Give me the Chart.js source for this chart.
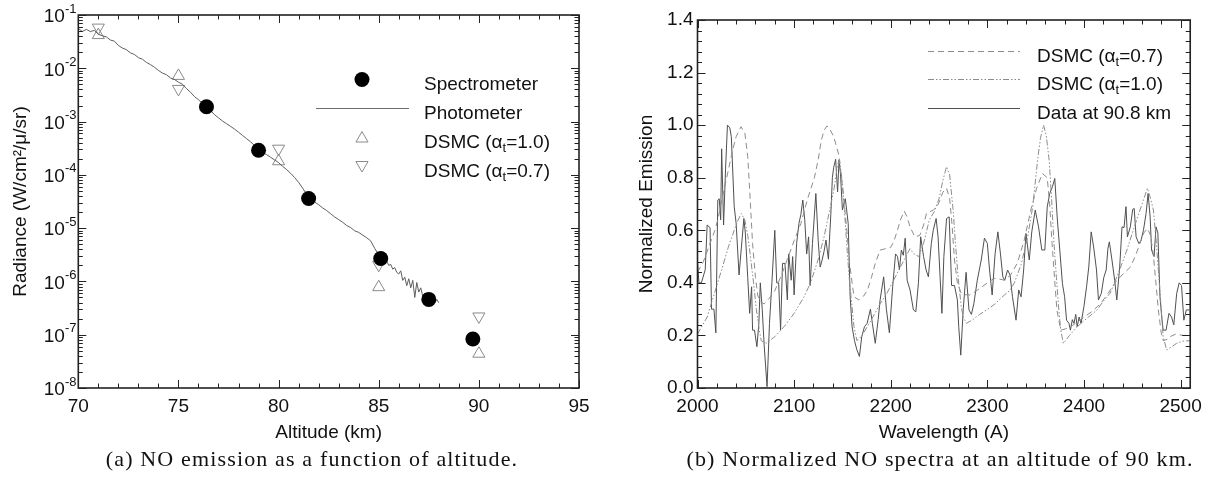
<!DOCTYPE html>
<html>
<head>
<meta charset="utf-8">
<script src="https://cdn.jsdelivr.net/npm/chart.js@4.4.1/dist/chart.umd.min.js"></script>
<style>
  body { margin: 0; background: #fff; width: 1209px; height: 478px; overflow: hidden; position: relative; }
  canvas { position: absolute; top: 0; }
  #alt-chart { left: 0; }
  #spec-chart { left: 600px; }
  .caption { position: absolute; top: 446px; transform: translateX(-50%); font-family: "Liberation Serif", "Times New Roman", serif;
             font-size: 22px; line-height: 26px; letter-spacing: 1.15px; white-space: nowrap; color: #111; }
</style>
</head>
<body>
<canvas id="alt-chart" width="600" height="450"></canvas>
<canvas id="spec-chart" width="609" height="450"></canvas>
<div class="caption" style="left:312px">(a) NO emission as a function of altitude.</div>
<div class="caption" style="left:940px">(b) Normalized NO spectra at an altitude of 90 km.</div>

<script>
// ---- (a) radiance vs altitude ----
const altTicks = [70, 75, 80, 85, 90, 95];
const radDecades = [1e-8, 1e-7, 1e-6, 1e-5, 1e-4, 1e-3, 1e-2, 1e-1];

const specAlt = [76.4, 79.0, 81.5, 85.1, 87.5, 89.7];
const specRad = [1.9e-3, 2.9e-4, 3.6e-5, 2.7e-6, 4.6e-7, 8.3e-8];

const dsmc10Alt = [71, 75, 80, 85, 90];
const dsmc10Rad = [4.2e-2, 7.2e-3, 1.8e-4, 7.8e-7, 4.4e-8];
const dsmc07Alt = [71, 75, 80, 85, 90];
const dsmc07Rad = [5.8e-2, 4.1e-3, 3.1e-4, 2.05e-6, 2.2e-7];

// photometer trace, altitude (km) and log10 of radiance
const photoAlt = [
  70.0, 70.2, 70.4, 70.6, 70.8, 71.0, 71.2, 71.4, 71.6, 71.8,
  72.0, 72.2, 72.4, 72.6, 72.8, 73.0, 73.2, 73.4, 73.6, 73.8,
  74.0, 74.2, 74.4, 74.6, 74.8, 75.0, 75.2, 75.4, 75.6, 75.8,
  76.0, 76.2, 76.4, 76.6, 76.8, 77.0, 77.2, 77.4, 77.6, 77.8,
  78.0, 78.2, 78.4, 78.6, 78.8, 79.0, 79.2, 79.4, 79.6, 79.8,
  80.0, 80.2, 80.4, 80.6, 80.8, 81.0, 81.2, 81.4, 81.6, 81.8,
  82.0, 82.2, 82.4, 82.6, 82.8, 83.0, 83.2, 83.4, 83.6, 83.8,
  84.0, 84.2, 84.4, 84.6, 84.8, 85.0, 85.1, 85.2, 85.3, 85.4,
  85.5, 85.6, 85.7, 85.8, 85.9, 86.0, 86.1, 86.2, 86.3, 86.4,
  86.5, 86.6, 86.7, 86.8, 86.9, 87.0, 87.1, 87.2, 87.3, 87.4,
  87.5, 87.6, 87.7, 87.8, 87.9, 88.0
];
const photoLogRad = [
  -1.25, -1.31, -1.27, -1.31, -1.29, -1.36, -1.39, -1.41, -1.47, -1.49,
  -1.57, -1.62, -1.65, -1.71, -1.74, -1.80, -1.83, -1.89, -1.93, -1.98,
  -2.04, -2.09, -2.12, -2.18, -2.21, -2.26, -2.30, -2.38, -2.45, -2.53,
  -2.59, -2.66, -2.72, -2.79, -2.87, -2.93, -2.99, -3.04, -3.09, -3.14,
  -3.20, -3.26, -3.32, -3.38, -3.45, -3.52, -3.58, -3.62, -3.67, -3.72,
  -3.77, -3.84, -3.90, -3.97, -4.05, -4.14, -4.25, -4.36, -4.45, -4.51,
  -4.56, -4.62, -4.67, -4.73, -4.79, -4.84, -4.89, -4.95, -4.99, -5.05,
  -5.08, -5.13, -5.18, -5.24, -5.38, -5.50, -5.57, -5.58, -5.64, -5.62,
  -5.70, -5.68, -5.77, -5.74, -5.83, -5.86, -5.80, -5.98, -5.92, -6.08,
  -5.95, -6.12, -5.98, -6.30, -6.02, -6.20, -6.12, -6.28, -6.22, -6.34,
  -6.30, -6.38, -6.31, -6.40, -6.34, -6.40
];

// ---- (b) normalized spectra ----
const waveTicks = [2000, 2100, 2200, 2300, 2400, 2500];
const emisTicks = [0, 0.2, 0.4, 0.6, 0.8, 1.0, 1.2, 1.4];

const dsmc07Wave = [
  2000, 2006, 2012, 2018, 2021, 2026, 2032, 2036, 2040, 2045, 2049, 2052, 2054.5, 2057, 2060,
  2062.5, 2066, 2069, 2074, 2080, 2087, 2093, 2100, 2107, 2114, 2121, 2125, 2128, 2131, 2134,
  2137, 2141, 2146, 2149, 2152, 2155, 2157, 2160, 2162, 2167, 2172, 2176, 2180, 2184, 2189,
  2196, 2200, 2203, 2207, 2210, 2214, 2217, 2220, 2225, 2230, 2234, 2237, 2244, 2248, 2251,
  2254, 2257.8, 2261, 2263.5, 2266, 2269, 2273, 2277, 2281.7, 2290, 2300, 2307, 2312, 2317.7, 2324,
  2331, 2338, 2345, 2351, 2357, 2362, 2364.5, 2367, 2369.5, 2372, 2376, 2381, 2386, 2393, 2400,
  2408, 2417, 2425, 2434, 2441, 2448, 2453, 2458, 2462, 2465.7, 2469, 2472, 2475, 2477, 2480,
  2482, 2486, 2489, 2495, 2502.7, 2510
];
const dsmc07Emis = [
  0.44, 0.48, 0.54, 0.60, 0.64, 0.73, 0.83, 0.90, 0.956, 0.994, 0.97, 0.88, 0.72, 0.55, 0.42,
  0.35, 0.325, 0.32, 0.34, 0.37, 0.43, 0.49, 0.56, 0.626, 0.72, 0.80, 0.87, 0.94, 0.98, 0.997,
  0.985, 0.956, 0.89, 0.80, 0.70, 0.58, 0.487, 0.40, 0.347, 0.335, 0.35, 0.373, 0.42, 0.474, 0.525,
  0.531, 0.535, 0.556, 0.60, 0.639, 0.673, 0.65, 0.613, 0.575, 0.58, 0.62, 0.664, 0.677, 0.69, 0.715,
  0.745, 0.76, 0.72, 0.62, 0.487, 0.40, 0.36, 0.355, 0.354, 0.373, 0.40, 0.417, 0.415, 0.41, 0.43,
  0.474, 0.56, 0.677, 0.76, 0.816, 0.80, 0.70, 0.55, 0.42, 0.297, 0.22, 0.225, 0.233, 0.25, 0.27,
  0.29, 0.32, 0.36, 0.41, 0.435, 0.46, 0.50, 0.55, 0.59, 0.607, 0.58, 0.50, 0.38, 0.297, 0.21,
  0.18, 0.185, 0.195, 0.205, 0.20, 0.20
];

const dsmc10Wave = [
  2000, 2010, 2018, 2025, 2032, 2038, 2042, 2045.4, 2049, 2052, 2054, 2058, 2061, 2064, 2066,
  2071, 2080, 2090, 2100, 2110, 2117, 2125, 2131, 2137, 2141, 2145, 2147, 2150, 2152, 2155,
  2157, 2162, 2165, 2168, 2172, 2180, 2189, 2196, 2203, 2210, 2217, 2220, 2224, 2229, 2234,
  2240, 2245, 2250, 2254, 2257.8, 2261, 2264.6, 2267, 2269.8, 2273, 2275, 2278.3, 2285, 2292, 2300.6,
  2308, 2317.7, 2323, 2328, 2335, 2341.7, 2347, 2352, 2355, 2358.2, 2361, 2364, 2366.5, 2369, 2371.5,
  2374, 2376, 2378.7, 2385, 2393, 2403, 2413.6, 2420, 2427, 2436, 2444.5, 2451, 2458, 2462, 2465.7,
  2469, 2471.9, 2474.5, 2477, 2480, 2482, 2485.6, 2490, 2495.9, 2502, 2510
];
const dsmc10Emis = [
  0.205, 0.27, 0.366, 0.45, 0.537, 0.60, 0.639, 0.664, 0.639, 0.58, 0.525, 0.40, 0.297, 0.22, 0.18,
  0.17, 0.195, 0.235, 0.284, 0.345, 0.40, 0.49, 0.575, 0.68, 0.75, 0.85, 0.87, 0.78, 0.68, 0.52,
  0.42, 0.233, 0.18, 0.19, 0.21, 0.26, 0.32, 0.36, 0.41, 0.46, 0.51, 0.53, 0.51, 0.50, 0.55,
  0.64, 0.67, 0.72, 0.79, 0.842, 0.81, 0.677, 0.55, 0.42, 0.31, 0.27, 0.246, 0.26, 0.28, 0.30,
  0.32, 0.354, 0.37, 0.40, 0.47, 0.575, 0.69, 0.867, 0.95, 1.0, 0.96, 0.867, 0.72, 0.55, 0.42,
  0.297, 0.22, 0.17, 0.20, 0.233, 0.265, 0.297, 0.33, 0.36, 0.44, 0.525, 0.60, 0.677, 0.72, 0.76,
  0.72, 0.677, 0.57, 0.449, 0.30, 0.195, 0.145, 0.155, 0.17, 0.178, 0.18
];

const obsWave = [
  2000, 2001.5, 2004, 2008, 2010, 2013, 2014.5, 2017, 2019, 2021, 2022.5, 2024, 2025, 2027, 2029,
  2031, 2033.4, 2035, 2038, 2040, 2043, 2048, 2049.5, 2052, 2054, 2056, 2057, 2059, 2061.5, 2063.5,
  2065, 2067, 2069, 2072, 2074.5, 2077, 2080, 2082, 2084, 2086, 2088, 2090.5, 2093, 2094.4, 2097,
  2098.5, 2100, 2102.6, 2105, 2107, 2109, 2111, 2113, 2115, 2116.6, 2119, 2122.5, 2125, 2127, 2129,
  2131, 2133, 2135.5, 2138, 2139.6, 2141, 2143, 2145, 2146.5, 2148, 2150, 2151.5, 2153, 2156, 2158,
  2160, 2162.5, 2165, 2167.6, 2170, 2172.8, 2175.6, 2179, 2181, 2184, 2187, 2189, 2192.7, 2195.5, 2198.6,
  2202, 2205, 2207, 2209, 2211, 2213, 2215, 2217, 2220, 2223.5, 2226, 2228.7, 2231, 2234, 2236.6,
  2239, 2242, 2244, 2247, 2249, 2253, 2255, 2257.8, 2260.5, 2263, 2266, 2269, 2270.4, 2272.5, 2275,
  2278, 2281, 2283.5, 2286, 2289.6, 2293.7, 2297, 2300, 2302.3, 2305, 2308, 2310.9, 2313.6, 2316, 2318,
  2321, 2323.5, 2326, 2329.7, 2332.5, 2334.9, 2337.6, 2340, 2343.4, 2346, 2349.6, 2353, 2356.4, 2359.5, 2362,
  2364.6, 2367.4, 2369.8, 2372.5, 2375, 2377.7, 2380, 2382, 2384.5, 2386, 2388, 2389.7, 2391.5, 2393, 2395,
  2397, 2400, 2402.7, 2405, 2407.5, 2410, 2413, 2415, 2418, 2420.5, 2423, 2424.8, 2426.3, 2429, 2431.8,
  2434, 2437, 2439.4, 2441.5, 2443.5, 2445, 2448, 2450.5, 2452, 2454, 2456.8, 2459, 2461.6, 2464.3, 2466.4,
  2468.5, 2470, 2472.6, 2474.6, 2476.5, 2478.7, 2480.5, 2482, 2485, 2488, 2490.7, 2493, 2496, 2498.6, 2501,
  2503.4, 2506, 2509
];
const obsEmis = [
  0.48, 0.40, 0.40, 0.45, 0.62, 0.61, 0.30, 0.30, 0.21, 0.715, 0.72, 0.64, 0.91, 0.62, 0.83,
  1.00, 0.99, 0.956, 0.69, 0.626, 0.43, 0.645, 0.59, 0.42, 0.284, 0.385, 0.22, 0.22, 0.157, 0.246,
  0.40, 0.30, 0.163, 0.005, 0.246, 0.40, 0.60, 0.40, 0.40, 0.22, 0.474, 0.474, 0.335, 0.51, 0.41,
  0.50, 0.354, 0.55, 0.626, 0.66, 0.715, 0.64, 0.51, 0.575, 0.39, 0.55, 0.74, 0.556, 0.46, 0.487,
  0.52, 0.563, 0.49, 0.66, 0.80, 0.84, 0.87, 0.746, 0.867, 0.815, 0.677, 0.70, 0.72, 0.626, 0.347,
  0.233, 0.18, 0.145, 0.12, 0.195, 0.233, 0.246, 0.30, 0.246, 0.17, 0.26, 0.335, 0.423, 0.30, 0.21,
  0.385, 0.51, 0.50, 0.45, 0.525, 0.505, 0.57, 0.41, 0.373, 0.297, 0.29, 0.40, 0.575, 0.50, 0.449,
  0.423, 0.55, 0.60, 0.645, 0.575, 0.284, 0.50, 0.645, 0.651, 0.39, 0.39, 0.335, 0.233, 0.125, 0.297,
  0.44, 0.297, 0.28, 0.32, 0.41, 0.487, 0.57, 0.55, 0.449, 0.354, 0.51, 0.594, 0.51, 0.423, 0.41,
  0.449, 0.43, 0.347, 0.258, 0.373, 0.347, 0.449, 0.588, 0.487, 0.594, 0.677, 0.613, 0.525, 0.525, 0.689,
  0.74, 0.766, 0.797, 0.639, 0.525, 0.398, 0.347, 0.258, 0.246, 0.22, 0.26, 0.246, 0.28, 0.233, 0.27,
  0.246, 0.31, 0.385, 0.46, 0.594, 0.537, 0.449, 0.335, 0.36, 0.42, 0.449, 0.53, 0.556, 0.487, 0.41,
  0.335, 0.46, 0.613, 0.61, 0.69, 0.575, 0.613, 0.68, 0.683, 0.575, 0.55, 0.56, 0.60, 0.664, 0.74,
  0.651, 0.525, 0.50, 0.613, 0.59, 0.347, 0.27, 0.22, 0.22, 0.284, 0.27, 0.24, 0.36, 0.40, 0.39,
  0.258, 0.297, 0.297
];

const FONT = '"Liberation Sans", Arial, Helvetica, sans-serif';
const INK = '#111';
Chart.defaults.font.family = FONT;
Chart.defaults.font.size = 19;
Chart.defaults.color = INK;
Chart.defaults.animation = false;

const pairs = (xs, ys) => xs.map((x, i) => ({ x, y: ys[i] }));
const steps = (from, to, step) => {
  const out = [];
  for (let v = from; v <= to + 1e-9; v += step) out.push(+v.toFixed(6));
  return out;
};

// frame with inward ticks on all four sides
const boxTicks = {
  id: 'boxTicks',
  afterDatasetsDraw(chart, args, opts) {
    const { ctx, chartArea: a, scales: { x, y } } = chart;
    ctx.save();
    ctx.strokeStyle = '#222';
    ctx.lineWidth = 1;
    ctx.beginPath();
    const xt = (vals, len) => vals.forEach(v => {
      const p = Math.round(x.getPixelForValue(v)) + 0.5;
      ctx.moveTo(p, a.bottom); ctx.lineTo(p, a.bottom - len);
      ctx.moveTo(p, a.top); ctx.lineTo(p, a.top + len);
    });
    const yt = (vals, len) => vals.forEach(v => {
      const p = Math.round(y.getPixelForValue(v)) + 0.5;
      ctx.moveTo(a.left, p); ctx.lineTo(a.left + len, p);
      ctx.moveTo(a.right, p); ctx.lineTo(a.right - len, p);
    });
    xt(opts.xMajor, 8); xt(opts.xMinor, 4.5);
    yt(opts.yMajor, 8); yt(opts.yMinor, 4.5);
    ctx.stroke();
    ctx.lineWidth = 1.6;
    ctx.strokeRect(a.left, a.top, a.right - a.left, a.bottom - a.top);
    ctx.restore();
  }
};

function alphaLabel(ctx, x, y, val) {
  ctx.font = '19px ' + FONT;
  const head = 'DSMC (\u03b1';
  ctx.fillText(head, x, y);
  x += ctx.measureText(head).width;
  ctx.font = '13px ' + FONT;
  ctx.fillText('t', x, y + 4);
  x += ctx.measureText('t').width;
  ctx.font = '19px ' + FONT;
  ctx.fillText('=' + val + ')', x, y);
}

// log labels 10^n and the legend of chart (a)
const altDecor = {
  id: 'altDecor',
  afterDraw(chart) {
    const { ctx, scales: { y } } = chart;
    ctx.save();
    ctx.fillStyle = INK;
    ctx.textBaseline = 'middle';
    radDecades.forEach(v => {
      const p = y.getPixelForValue(v);
      const sup = String(Math.round(Math.log10(v)));
      ctx.font = '13px ' + FONT;
      const ws = ctx.measureText(sup).width;
      ctx.font = '19px ' + FONT;
      const wb = ctx.measureText('10').width;
      const x0 = 76.5 - ws - wb;
      ctx.fillText('10', x0, p + 2);
      ctx.font = '13px ' + FONT;
      ctx.fillText(sup, x0 + wb, p - 6);
    });

    const H = Chart.helpers;
    ctx.textBaseline = 'alphabetic';
    ctx.fillStyle = '#000';
    H.drawPoint(ctx, { pointStyle: 'circle', radius: 7.5, borderWidth: 0 }, 362, 79.5);
    ctx.strokeStyle = '#6e6e6e';
    ctx.lineWidth = 1;
    ctx.beginPath(); ctx.moveTo(316, 108.5); ctx.lineTo(409, 108.5); ctx.stroke();
    ctx.fillStyle = 'rgba(0,0,0,0)';
    ctx.strokeStyle = '#8a8a8a';
    H.drawPoint(ctx, { pointStyle: 'triangle', radius: 7, borderWidth: 1, rotation: 0 }, 362, 138.5);
    H.drawPoint(ctx, { pointStyle: 'triangle', radius: 7, borderWidth: 1, rotation: 180 }, 362, 165);
    ctx.fillStyle = INK;
    ctx.font = '19px ' + FONT;
    ctx.fillText('Spectrometer', 424, 89.5);
    ctx.fillText('Photometer', 424, 118.5);
    alphaLabel(ctx, 424, 147.5, '1.0');
    alphaLabel(ctx, 424, 176.5, '0.7');
    ctx.restore();
  }
};

new Chart(document.getElementById('alt-chart'), {
  type: 'scatter',
  data: {
    datasets: [
      { label: 'Spectrometer', data: pairs(specAlt, specRad), pointStyle: 'circle', pointRadius: 7.5,
        backgroundColor: '#000', borderColor: '#000', borderWidth: 0 },
      { label: 'Photometer', data: pairs(photoAlt, photoLogRad.map(e => Math.pow(10, e))), showLine: true,
        pointRadius: 0, borderColor: '#5e5e5e', borderWidth: 1, tension: 0 },
      { label: 'DSMC (\u03b1t=1.0)', data: pairs(dsmc10Alt, dsmc10Rad), pointStyle: 'triangle', pointRadius: 7,
        backgroundColor: 'rgba(0,0,0,0)', borderColor: '#8a8a8a', borderWidth: 1 },
      { label: 'DSMC (\u03b1t=0.7)', data: pairs(dsmc07Alt, dsmc07Rad), pointStyle: 'triangle', rotation: 180,
        pointRadius: 7, backgroundColor: 'rgba(0,0,0,0)', borderColor: '#8a8a8a', borderWidth: 1 }
    ]
  },
  options: {
    responsive: false,
    layout: { padding: { top: 15, right: 21, left: 0, bottom: 0 } },
    plugins: {
      legend: { display: false },
      tooltip: { enabled: false },
      boxTicks: {
        xMajor: altTicks, xMinor: steps(70, 95, 1),
        yMajor: radDecades,
        yMinor: radDecades.slice(0, -1).flatMap(d => [2, 3, 4, 5, 6, 7, 8, 9].map(k => k * d))
      }
    },
    scales: {
      x: {
        type: 'linear', min: 70, max: 95,
        afterBuildTicks: s => { s.ticks = altTicks.map(v => ({ value: v })); },
        afterFit: s => { s.height = 62; },
        grid: { display: false, drawTicks: false }, border: { display: false },
        ticks: { autoSkip: false, maxRotation: 0, padding: 7, callback: v => String(v) },
        title: { display: true, text: 'Altitude (km)', padding: { top: 0, bottom: 6 } }
      },
      y: {
        type: 'logarithmic', min: 1e-8, max: 1e-1,
        afterBuildTicks: s => { s.ticks = radDecades.map(v => ({ value: v })); },
        afterFit: s => { s.width = 78.3; },
        grid: { display: false, drawTicks: false }, border: { display: false },
        ticks: { callback: () => '' },
        title: { display: true, text: 'Radiance (W/cm\u00b2/\u03bc/sr)', padding: { top: 9, bottom: 0 } }
      }
    }
  },
  plugins: [boxTicks, altDecor]
});

// legend of chart (b)
const specLegend = {
  id: 'specLegend',
  afterDraw(chart) {
    const { ctx } = chart;
    const rows = chart.data.datasets;
    const ys = [51.5, 79.5, 108.5];
    const base = [61.5, 90, 119];
    ctx.save();
    rows.forEach((ds, i) => {
      ctx.strokeStyle = ds.borderColor;
      ctx.lineWidth = 1;
      ctx.setLineDash(ds.borderDash || []);
      ctx.beginPath(); ctx.moveTo(328, ys[i]); ctx.lineTo(420, ys[i]); ctx.stroke();
    });
    ctx.setLineDash([]);
    ctx.fillStyle = INK;
    alphaLabel(ctx, 437, base[0], '0.7');
    alphaLabel(ctx, 437, base[1], '1.0');
    ctx.font = '19px ' + FONT;
    ctx.fillText('Data at 90.8 km', 437, base[2]);
    ctx.restore();
  }
};

new Chart(document.getElementById('spec-chart'), {
  type: 'scatter',
  data: {
    datasets: [
      { label: 'DSMC (\u03b1t=0.7)', data: pairs(dsmc07Wave, dsmc07Emis), showLine: true, pointRadius: 0,
        borderColor: '#8c8c8c', borderWidth: 1, borderDash: [6, 4], tension: 0 },
      { label: 'DSMC (\u03b1t=1.0)', data: pairs(dsmc10Wave, dsmc10Emis), showLine: true, pointRadius: 0,
        borderColor: '#8c8c8c', borderWidth: 1, borderDash: [6, 2, 1.5, 2, 1.5, 2], tension: 0 },
      { label: 'Data at 90.8 km', data: pairs(obsWave, obsEmis), showLine: true, pointRadius: 0,
        borderColor: '#505050', borderWidth: 1, tension: 0 }
    ]
  },
  options: {
    responsive: false,
    layout: { padding: { top: 20, right: 15.7, left: 0, bottom: 0 } },
    plugins: {
      legend: { display: false },
      tooltip: { enabled: false },
      boxTicks: {
        xMajor: waveTicks, xMinor: steps(2000, 2500, 20),
        yMajor: emisTicks, yMinor: steps(0, 1.4, 0.04)
      }
    },
    scales: {
      x: {
        type: 'linear', min: 2000, max: 2510,
        afterBuildTicks: s => { s.ticks = waveTicks.map(v => ({ value: v })); },
        afterFit: s => { s.height = 62; },
        grid: { display: false, drawTicks: false }, border: { display: false },
        ticks: { autoSkip: false, maxRotation: 0, padding: 7, callback: v => String(v) },
        title: { display: true, text: 'Wavelength (A)', padding: { top: 0, bottom: 6 } }
      },
      y: {
        type: 'linear', min: 0, max: 1.4,
        afterBuildTicks: s => { s.ticks = emisTicks.map(v => ({ value: v })); },
        afterFit: s => { s.width = 97.5; },
        grid: { display: false, drawTicks: false }, border: { display: false },
        ticks: { padding: 4, callback: v => v.toFixed(1) },
        title: { display: true, text: 'Normalized Emission', padding: { top: 35, bottom: 0 } }
      }
    }
  },
  plugins: [boxTicks, specLegend]
});
</script>
</body>
</html>
